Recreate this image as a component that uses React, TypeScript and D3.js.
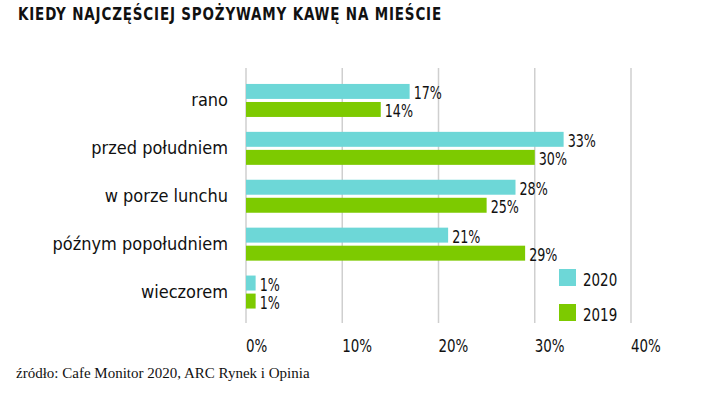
import React from 'react'
import * as d3 from 'd3'

const categories = ['rano', 'przed południem', 'w porze lunchu', 'późnym popołudniem', 'wieczorem']
const series = ['2020', '2019']
const values2020 = [17, 33, 28, 21, 1]
const values2019 = [14, 30, 25, 29, 1]
const ticks = [0, 10, 20, 30, 40]
const colors = ['#6dd7d7', '#7dca00']

const font = '"DejaVu Sans Condensed", "DejaVu Sans", sans-serif'
const narrow = 0.83

export default function App () {
  const width = 716
  const height = 399

  const x = d3.scaleLinear().domain([0, 40]).range([246, 631])
  const y = d3.scaleBand().domain(categories).range([76.5, 316]).paddingInner(0)
  const inner = d3.scaleBand().domain(series).range([0, 33]).paddingInner(0.17)
  const data = [values2020, values2019]

  return (
    <svg width={width} height={height} style={{ position: 'absolute', left: 0, top: 0, background: '#fff' }}>
      <text x={18} y={20} fontFamily={font} fontWeight='bold' fontSize={18} letterSpacing={1}
        textLength={424} lengthAdjust='spacingAndGlyphs' fill='#111'>
        KIEDY NAJCZĘŚCIEJ SPOŻYWAMY KAWĘ NA MIEŚCIE
      </text>

      {/* grid */}
      {ticks.map(t => (
        <line key={t} x1={x(t)} x2={x(t)} y1={68} y2={323} stroke='#cfcfcf' strokeWidth={1.5} />
      ))}
      {ticks.map(t => (
        <text key={'t' + t} transform={`translate(${x(t)}, 352) scale(${narrow}, 1)`} fontFamily={font} fontSize={18} fill='#111'>
          {t}%
        </text>
      ))}

      {categories.map((c, i) => {
        const g0 = y(c)! + y.bandwidth() / 2 - 16.5
        return (
          <g key={c}>
            <text x={228} y={g0 + 22} textAnchor='end' fontFamily={font} fontSize={18} fill='#111'>{c}</text>
            {series.map((s, j) => {
              const v = data[j][i]
              const by = g0 + inner(s)!
              return (
                <g key={s}>
                  <rect x={x(0)} y={by} width={x(v) - x(0)} height={inner.bandwidth()} fill={colors[j]} />
                  <text transform={`translate(${x(v) + 4}, ${by + inner.bandwidth()}) scale(${narrow}, 1)`}
                    fontFamily={font} fontSize={17} fill='#111'>{v}%</text>
                </g>
              )
            })}
          </g>
        )
      })}

      {/* legend */}
      {series.map((s, j) => (
        <g key={s} transform={`translate(559, ${269 + j * 35})`}>
          <rect width={17} height={17} fill={colors[j]} />
          <text transform={`translate(24, 17) scale(${narrow}, 1)`} fontFamily={font} fontSize={18} fill='#111'>{s}</text>
        </g>
      ))}

      <text x={16} y={378} fontFamily='"Liberation Serif", serif' fontSize={15} fill='#111'>
        źródło: Cafe Monitor 2020, ARC Rynek i Opinia
      </text>
    </svg>
  )
}
